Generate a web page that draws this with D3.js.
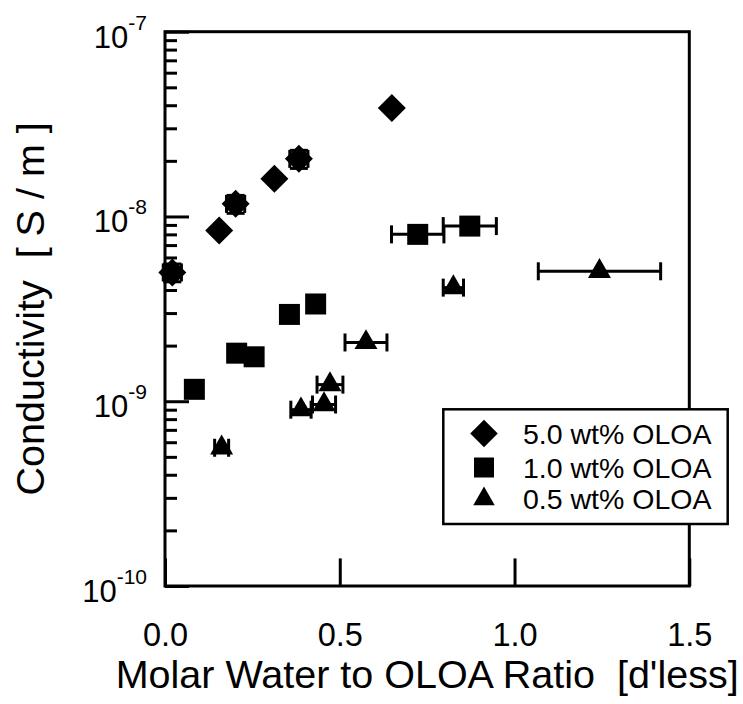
<!DOCTYPE html>
<html>
<head>
<meta charset="utf-8">
<script src="https://cdn.jsdelivr.net/npm/d3@7"></script>
<style>
  html, body { margin: 0; padding: 0; background: #fff; }
  svg { display: block; font-family: "Liberation Sans", Arial, Helvetica, sans-serif; }
  text { white-space: pre; }
</style>
</head>
<body>
<svg id="chart" width="743" height="704"></svg>
<script>
// Conductivity vs. molar water / OLOA ratio for three OLOA concentrations
const seriesNames = ["5.0 wt% OLOA", "1.0 wt% OLOA", "0.5 wt% OLOA"];
const seriesShapes = ["diamond", "square", "triangle"];

// 5.0 wt% OLOA
const x50 = [0.021, 0.155, 0.202, 0.313, 0.383, 0.649];
const y50 = [4.98e-9, 8.4e-9, 1.17e-8, 1.60e-8, 2.05e-8, 3.86e-8];
const xe50 = [0.026, 0, 0.026, 0, 0.026, 0];
const ye50 = [0.55e-9, 0, 1.3e-9, 0, 2.3e-9, 0];

// 1.0 wt% OLOA
const x10 = [0.084, 0.205, 0.255, 0.356, 0.431, 0.723, 0.872];
const y10 = [1.16e-9, 1.82e-9, 1.74e-9, 2.95e-9, 3.36e-9, 8.0e-9, 8.87e-9];
const xe10 = [0, 0, 0, 0, 0, 0.075, 0.076];
const ye10 = [0, 0, 0, 0, 0, 0, 0];

// 0.5 wt% OLOA
const x05 = [0.162, 0.389, 0.455, 0.472, 0.575, 0.825, 1.243];
const y05 = [5.6e-10, 9.0e-10, 9.6e-10, 1.23e-9, 2.08e-9, 4.12e-9, 5.05e-9];
const xe05 = [0.02, 0.029, 0.033, 0.037, 0.06, 0.029, 0.175];
const ye05 = [0, 0, 0, 0, 0, 0, 0];

const xTicks = [0, 0.5, 1.0, 1.5];
const yMajor = [1e-10, 1e-9, 1e-8, 1e-7];
const yMinorMult = [2, 3, 4, 5, 6, 7, 8, 9];

const xTitle = "Molar Water to OLOA Ratio  [d'less]";
const yTitle = "Conductivity  [ S / m ]";

const series = [
  { name: seriesNames[0], shape: seriesShapes[0], x: x50, y: y50, xe: xe50, ye: ye50 },
  { name: seriesNames[1], shape: seriesShapes[1], x: x10, y: y10, xe: xe10, ye: ye10 },
  { name: seriesNames[2], shape: seriesShapes[2], x: x05, y: y05, xe: xe05, ye: ye05 }
];

const svg = d3.select("#chart");
const plotL = 165, plotR = 689.3, plotT = 31.7, plotB = 586;

const x = d3.scaleLinear().domain([0, 1.5]).range([plotL, plotR]);
const y = d3.scaleLog().domain([1e-10, 1e-7]).range([plotB, plotT]);

svg.append("rect").attr("width", 743).attr("height", 704).attr("fill", "#fff");

// symbol generators
const symbolPath = {
  diamond: d3.symbol().type(d3.symbolSquare).size(392)(),
  square: d3.symbol().type(d3.symbolSquare).size(441)(),
  triangle: d3.symbol().type(d3.symbolTriangle).size(229)()
};
const legendPath = {
  diamond: d3.symbol().type(d3.symbolSquare).size(380)(),
  square: d3.symbol().type(d3.symbolSquare).size(400)(),
  triangle: d3.symbol().type(d3.symbolTriangle).size(200)()
};
const rot = s => s === "diamond" ? " rotate(45)" : "";

// y axis ticks (inward): minor then major
const minorVals = [];
yMajor.slice(0, 3).forEach(d => yMinorMult.forEach(m => minorVals.push(d * m)));

const yMinorAxis = d3.axisLeft(y).tickValues(minorVals).tickSize(-12).tickFormat("");
const yMajorAxis = d3.axisLeft(y).tickValues(yMajor).tickSize(-24).tickFormat("");
const gyMinor = svg.append("g").attr("transform", `translate(${plotL},0)`).call(yMinorAxis);
const gyMajor = svg.append("g").attr("transform", `translate(${plotL},0)`).call(yMajorAxis);
[gyMinor, gyMajor].forEach(g => {
  g.select(".domain").remove();
  g.selectAll(".tick line").attr("stroke", "#000").attr("stroke-width", 3);
});

// x axis ticks (inward)
const xAxis = d3.axisBottom(x).tickValues(xTicks).tickSize(-27.6).tickFormat(d3.format(".1f"));
const gx = svg.append("g").attr("transform", `translate(0,${plotB})`).call(xAxis);
gx.select(".domain").remove();
gx.selectAll(".tick line").attr("stroke", "#000").attr("stroke-width", 3);
gx.selectAll(".tick text")
  .attr("y", 60).attr("dy", null)
  .attr("font-size", 32.5).attr("fill", "#000")
  .attr("font-family", "Liberation Sans, Arial, sans-serif");

// y tick labels: 10 with superscript exponent
const yLab = svg.append("g").selectAll("text").data(yMajor).join("text")
  .attr("x", 147).attr("y", d => y(d) + 16)
  .attr("text-anchor", "end").attr("font-size", 31).attr("fill", "#000");
yLab.append("tspan").text("10");
yLab.append("tspan").attr("dy", -18).attr("font-size", 21)
  .text(d => String(Math.round(Math.log10(d))));

// frame
svg.append("rect")
  .attr("x", plotL).attr("y", plotT)
  .attr("width", plotR - plotL).attr("height", plotB - plotT)
  .attr("fill", "none").attr("stroke", "#000").attr("stroke-width", 3);

// data: error bars then markers
const cap = 9;
series.forEach(s => {
  const g = svg.append("g");
  const pts = s.x.map((xv, i) => ({ x: xv, y: s.y[i], xe: s.xe[i], ye: s.ye[i] }));
  pts.filter(p => p.xe > 0).forEach(p => {
    const x0 = x(p.x - p.xe), x1 = x(p.x + p.xe), yy = y(p.y);
    g.append("line").attr("x1", x0).attr("x2", x1).attr("y1", yy).attr("y2", yy)
      .attr("stroke", "#000").attr("stroke-width", 3);
    [x0, x1].forEach(xx => g.append("line")
      .attr("x1", xx).attr("x2", xx).attr("y1", yy - cap).attr("y2", yy + cap)
      .attr("stroke", "#000").attr("stroke-width", 3));
  });
  pts.filter(p => p.ye > 0).forEach(p => {
    const y0 = y(p.y - p.ye), y1 = y(p.y + p.ye), xx = x(p.x);
    g.append("line").attr("x1", xx).attr("x2", xx).attr("y1", y0).attr("y2", y1)
      .attr("stroke", "#000").attr("stroke-width", 3);
    [y0, y1].forEach(yy => g.append("line")
      .attr("x1", xx - cap).attr("x2", xx + cap).attr("y1", yy).attr("y2", yy)
      .attr("stroke", "#000").attr("stroke-width", 3));
  });
  g.selectAll("path").data(pts).join("path")
    .attr("d", symbolPath[s.shape])
    .attr("transform", p => `translate(${x(p.x)},${y(p.y)})${rot(s.shape)}`)
    .attr("fill", "#000");
});

// legend
const lg = svg.append("g");
lg.append("rect").attr("x", 443.3).attr("y", 409.3).attr("width", 284.4).attr("height", 114.7)
  .attr("fill", "#fff").attr("stroke", "#000").attr("stroke-width", 2.5);
const rowY = [433.5, 467.5, 499];
series.forEach((s, i) => {
  lg.append("path").attr("d", legendPath[s.shape])
    .attr("transform", `translate(484,${rowY[i]})${rot(s.shape)}`).attr("fill", "#000");
  lg.append("text").attr("x", 523).attr("y", rowY[i] + 10)
    .attr("font-size", 28.5).attr("fill", "#000").text(s.name);
});

// axis titles
svg.append("text").attr("x", (plotL + plotR) / 2).attr("y", 688)
  .attr("xml:space", "preserve")
  .attr("text-anchor", "middle").attr("font-size", 39.5).attr("fill", "#000").text(xTitle);
svg.append("text").attr("transform", `translate(43.5,${(plotT + plotB) / 2}) rotate(-90)`)
  .attr("xml:space", "preserve")
  .attr("text-anchor", "middle").attr("font-size", 39.5).attr("fill", "#000").text(yTitle);
</script>
</body>
</html>
